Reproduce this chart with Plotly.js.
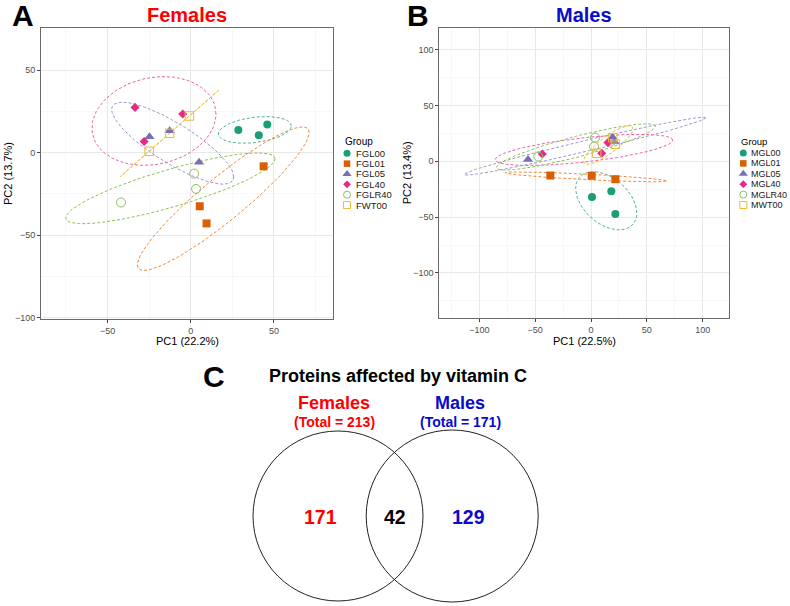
<!DOCTYPE html>
<html><head><meta charset="utf-8">
<script src="https://cdn.plot.ly/plotly-3.0.1.min.js"></script>
<style>html,body{margin:0;padding:0;background:#fff}</style>
</head><body><div id="chart" style="width:790px;height:606px"></div>
<script>
// ---------------- DATA ----------------
const groupsF = ['FGL00','FGL01','FGL05','FGL40','FGLR40','FWT00'];
const groupsM = ['MGL00','MGL01','MGL05','MGL40','MGLR40','MWT00'];
// PCA scores, one inner array per group (3 replicates)
const femalesPC1 = [[28.6,40.9,46.0],[43.8,5.4,9.5],[-24.8,-12.7,5.0],[-33.5,-4.8,-28.0],[2.0,3.2,-41.9],[-0.8,-12.7,-25.0]];
const femalesPC2 = [[13.7,10.5,17.1],[-8.3,-32.5,-42.9],[9.6,13.3,-5.8],[27.4,23.4,6.7],[-12.7,-22.0,-30.2],[22.2,11.7,0.8]];
const malesPC1 = [[0.9,18.2,21.8],[-36.4,0.6,21.8],[-56.4,19.4,20.8],[-43.6,15.2,9.6],[-47.2,3.6,2.7],[5.1,21.8,19.4]];
const malesPC2 = [[-32.1,-26.8,-47.3],[-12.8,-13.1,-16.1],[1.5,21.4,17.6],[6.5,16.7,7.2],[4.2,21.1,13.1],[7.1,15.2,21.1]];
const xTitles = ['PC1 (22.2%)','PC1 (22.5%)'];
const yTitles = ['PC2 (13.7%)','PC2 (13.4%)'];
// Venn counts
const vennSets = ['Females','Males'];
const vennTotals = [213,171];
const vennOnly = [171,129];
const vennShared = 42;

// ---------------- STYLE ----------------
const colors = ['#1B9E77','#D95F02','#7570B3','#E7298A','#8CC063','#EDBB3A'];
const ellColors = ['#4DB596','#EE8A40','#9C98CF','#EE62A8','#8CC24E','#F0BE30'];
const symbols = ['circle','square','triangle-up','diamond','circle-open','square-open'];
const sizes = [8,8,9,7,9,8.5];
const legSizes = [7,6.5,8,6,7,7];
const FONT = 'Liberation Sans, Arial, Helvetica, sans-serif';
const W = 790, H = 606;
const px = v => v / W;
const py = v => 1 - v / H;

function ellipse(xs, ys) {
  const n = xs.length;
  const mx = xs.reduce((a,b)=>a+b,0)/n, my = ys.reduce((a,b)=>a+b,0)/n;
  let sxx=0, syy=0, sxy=0;
  for (let i=0;i<n;i++){ const dx=xs[i]-mx, dy=ys[i]-my; sxx+=dx*dx; syy+=dy*dy; sxy+=dx*dy; }
  sxx/=(n-1); syy/=(n-1); sxy/=(n-1);
  const a = Math.sqrt(sxx), b = sxy/a, c = Math.sqrt(Math.max(syy - b*b, 0));
  const r = Math.sqrt(-2*Math.log(1-0.95)); // sqrt(qchisq(0.95, 2))
  const ex=[], ey=[];
  for (let k=0;k<=100;k++){ const t=2*Math.PI*k/100; ex.push(mx + r*a*Math.cos(t)); ey.push(my + r*(b*Math.cos(t) + c*Math.sin(t))); }
  return [ex, ey];
}

const traces = [];
function addPanel(PC1, PC2, xa, ya) {
  PC1.forEach((xs, g) => {
    const [ex, ey] = ellipse(xs, PC2[g]);
    traces.push({type:'scatter', mode:'lines', x:ex, y:ey, xaxis:xa, yaxis:ya, showlegend:false, hoverinfo:'skip',
      line:{color:ellColors[g], width:1, dash:'3px,2px'}});
  });
  PC1.forEach((xs, g) => {
    const open = symbols[g].includes('open');
    traces.push({type:'scatter', mode:'markers', x:xs, y:PC2[g], xaxis:xa, yaxis:ya, showlegend:false,
      marker:{symbol:symbols[g], size:sizes[g], color:colors[g], line:{color:colors[g], width: open?1:0}}});
  });
}
addPanel(femalesPC1, femalesPC2, 'x', 'y');
addPanel(malesPC1, malesPC2, 'x2', 'y2');

// custom legends (index-based positions on hidden axes)
function addLegend(groups, xa, ya) {
  groups.forEach((g, i) => {
    const open = symbols[i].includes('open');
    traces.push({type:'scatter', mode:'markers', x:[0], y:[i], xaxis:xa, yaxis:ya, showlegend:false, hoverinfo:'skip',
      marker:{symbol:symbols[i], size:legSizes[i], color:colors[i], line:{color:colors[i], width: open?1:0}}});
  });
}
addLegend(groupsF, 'x3', 'y3');
addLegend(groupsM, 'x4', 'y4');

// ---------------- LAYOUT ----------------
function axisCfg(domain, range, anchor) {
  return {domain, range, anchor, dtick:50, tick0:0, showgrid:true, gridcolor:'#e8e8e8', gridwidth:1,
    minor:{showgrid:true, dtick:25, gridcolor:'#f4f4f4', gridwidth:0.6},
    ticks:'outside', ticklen:3, tickcolor:'#444', tickwidth:1,
    tickfont:{family:FONT, size:9, color:'#4d4d4d'},
    showline:true, linecolor:'#6a6a6a', linewidth:1, mirror:true, zeroline:false, fixedrange:true};
}
function hiddenAxis(domain, range, anchor) {
  return {domain, range, anchor, visible:false, fixedrange:true};
}

// legend axes: x in pixels relative to marker, y in item index
const legA = {x0:340, x1:420, top:135, bottom:215, first:153.3, step:10.35, mark:347, text:353.5};
const legB = {x0:736, x1:790, top:135, bottom:215, first:153.0, step:10.4, mark:743.3, text:749};
function legY(L){ return [ (L.bottom-L.first)/L.step, (L.top-L.first)/L.step ]; }

const layout = {
  width:W, height:H, margin:{l:0,r:0,t:0,b:0}, paper_bgcolor:'#fff', plot_bgcolor:'#fff',
  showlegend:false, font:{family:FONT},
  xaxis: axisCfg([px(41), px(333)], [-90, 85.5], 'y'),
  yaxis: axisCfg([py(319), py(28)], [-100.8, 75.5], 'x'),
  xaxis2: axisCfg([px(439.3), px(729.3)], [-135.8, 123.8], 'y2'),
  yaxis2: axisCfg([py(318.3), py(28.3)], [-140.6, 119], 'x2'),
  xaxis3: hiddenAxis([px(legA.x0), px(legA.x1)], [legA.x0 - legA.mark, legA.x1 - legA.mark], 'y3'),
  yaxis3: hiddenAxis([py(legA.bottom), py(legA.top)], legY(legA), 'x3'),
  xaxis4: hiddenAxis([px(legB.x0), px(legB.x1)], [legB.x0 - legB.mark, legB.x1 - legB.mark], 'y4'),
  yaxis4: hiddenAxis([py(legB.bottom), py(legB.top)], legY(legB), 'x4'),
  xaxis5: hiddenAxis([px(200), px(590)], [200, 590], 'y5'),
  yaxis5: hiddenAxis([0, py(350)], [606, 350], 'x5'),
  annotations: [], shapes: []
};
const ann = layout.annotations;
function A(o){ ann.push(Object.assign({showarrow:false, xref:'paper', yref:'paper', xanchor:'center', yanchor:'middle'}, o)); }

// panel letters and titles
A({x:px(23), y:py(15.5), text:'A', font:{family:FONT, size:30, color:'#000', weight:'bold'}});
A({x:px(187), y:py(15), text:'Females', font:{family:FONT, size:20, color:'#FF0000', weight:'bold'}});
A({x:px(418), y:py(15.5), text:'B', font:{family:FONT, size:30, color:'#000', weight:'bold'}});
A({x:px(584), y:py(15), text:'Males', font:{family:FONT, size:20, color:'#0A0ACC', weight:'bold'}});
// axis titles
A({x:px(187), y:py(341), text:xTitles[0], font:{family:FONT, size:11, color:'#000'}});
A({x:px(7.5), y:py(173.5), text:yTitles[0], textangle:-90, font:{family:FONT, size:11, color:'#000'}});
A({x:px(584), y:py(341), text:xTitles[1], font:{family:FONT, size:11, color:'#000'}});
A({x:px(407), y:py(173.3), text:yTitles[1], textangle:-90, font:{family:FONT, size:11, color:'#000'}});

// legend titles/labels
A({xref:'x3', yref:'y3', x:legA.x0 + 2.5 - legA.mark, y:(141.7-legA.first)/legA.step, xanchor:'left', text:'Group', font:{family:FONT, size:10, color:'#000'}});
groupsF.forEach((g,i)=>A({xref:'x3', yref:'y3', x:legA.text - legA.mark, y:i, xanchor:'left', text:g, font:{family:FONT, size:9.5, color:'#1a1a1a'}}));
A({xref:'x4', yref:'y4', x:739.3 - legB.mark, y:(141.7-legB.first)/legB.step, xanchor:'left', text:'Group', font:{family:FONT, size:9.5, color:'#000'}});
groupsM.forEach((g,i)=>A({xref:'x4', yref:'y4', x:legB.text - legB.mark, y:i, xanchor:'left', text:g, font:{family:FONT, size:9, color:'#1a1a1a'}}));

// Venn diagram (axis 5 in pixel units)
const vennGeom = {cx:[338, 452.2], cy:516, r:[85, 86]};
vennGeom.cx.forEach((cx,i)=>layout.shapes.push({type:'circle', xref:'x5', yref:'y5',
  x0:cx - vennGeom.r[i], x1:cx + vennGeom.r[i], y0:vennGeom.cy - vennGeom.r[i], y1:vennGeom.cy + vennGeom.r[i],
  line:{color:'#222', width:1}, fillcolor:'rgba(0,0,0,0)'}));
const vennColors = ['#FF0000','#0A0ACC'];
A({x:px(214), y:py(376), text:'C', font:{family:FONT, size:30, color:'#000', weight:'bold'}});
A({xref:'x5', yref:'y5', x:397.5, y:375.5, text:'Proteins affected by vitamin C', font:{family:FONT, size:18, color:'#000', weight:'bold'}});
const setLabelX = [334, 460.3];
vennSets.forEach((s,i)=>{
  A({xref:'x5', yref:'y5', x:setLabelX[i], y:402.5, text:s, font:{family:FONT, size:18, color:vennColors[i], weight:'bold'}});
  A({xref:'x5', yref:'y5', x:setLabelX[i], y:422, text:'(Total = ' + vennTotals[i] + ')', font:{family:FONT, size:14, color:vennColors[i], weight:'bold'}});
});
const onlyX = [320, 468.7];
vennOnly.forEach((v,i)=>A({xref:'x5', yref:'y5', x:onlyX[i], y:516.5, text:String(v), font:{family:FONT, size:19.5, color:vennColors[i], weight:'bold'}}));
A({xref:'x5', yref:'y5', x:394.7, y:516.5, text:String(vennShared), font:{family:FONT, size:19.5, color:'#000', weight:'bold'}});

Plotly.newPlot('chart', traces, layout, {staticPlot:true, displayModeBar:false});
</script></body></html>
